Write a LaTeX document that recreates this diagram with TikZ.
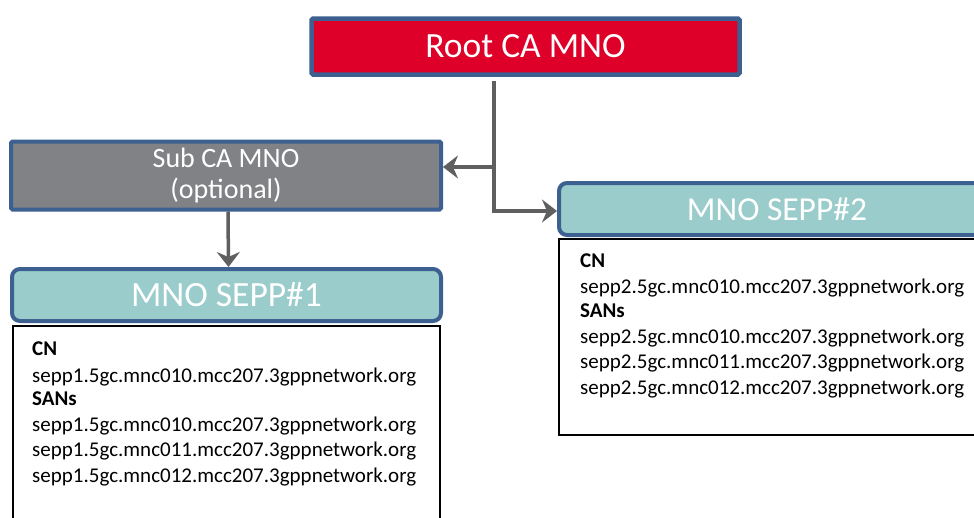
\documentclass[tikz,border=0pt]{standalone}
\usepackage{fontspec}
\setmainfont{Carlito}
\usetikzlibrary{arrows.meta}
\definecolor{rootred}{HTML}{DE0029}
\definecolor{edgeblue}{HTML}{3C6090}
\definecolor{subgray}{HTML}{818286}
\definecolor{septeal}{HTML}{9ACCCB}
\definecolor{conngray}{HTML}{5F5F5F}
\begin{document}
\begin{tikzpicture}[x=1pt,y=-1pt,
  cabox/.style={draw=edgeblue, line width=4.5pt, text=white, inner sep=0pt, rounded corners=1.5pt},
  headbox/.style={draw=edgeblue, line width=4pt, fill=septeal, text=white, inner sep=0pt, rounded corners=8pt},
  bodybox/.style={draw=black, line width=1.6pt, fill=white, inner sep=0pt},
  bodytxt/.style={anchor=base west, inner sep=0pt, font=\fontsize{21pt}{24pt}\selectfont},
  bodyhd/.style={bodytxt, font=\fontsize{21pt}{24pt}\selectfont\bfseries},
  conn/.style={draw=conngray, line width=3.5pt, -{Stealth[length=15pt, width=23pt, inset=5pt]}}
]
\useasboundingbox (0,0) rectangle (974,517);

% boxes
\node[cabox, fill=rootred, minimum width=428pt, minimum height=56pt,
      font=\fontsize{35.5pt}{40pt}\selectfont] (root) at (525.5,46.5) {Root CA MNO};
\node[cabox, line width=4pt, fill=subgray, minimum width=430pt, minimum height=68pt, align=center,
      font=\fontsize{28pt}{31pt}\selectfont] (sub) at (226,175.5) {Sub CA MNO\\(optional)};

\node[bodybox, minimum width=427pt, minimum height=214pt] (body1) at (226.5,433) {};
\node[headbox, minimum width=429pt, minimum height=52pt,
      font=\fontsize{35.5pt}{40pt}\selectfont] (sepp1) at (226.5,295) {MNO SEPP\#1};

\node[bodybox, minimum width=437pt, minimum height=196pt] (body2) at (777.5,337) {};
\node[headbox, minimum width=436pt, minimum height=52pt,
      font=\fontsize{33.5pt}{38pt}\selectfont] (sepp2) at (777,209) {MNO SEPP\#2};

% SEPP#1 certificate text
\node[bodyhd]  (cn1)  at (32,355) {CN};
\node[bodytxt] (cnv1) at (32,382) {sepp1.5gc.mnc010.mcc207.3gppnetwork.org};
\node[bodyhd]  (sa1)  at (32,405) {SANs};
\node[bodytxt] (s1a)  at (32,431) {sepp1.5gc.mnc010.mcc207.3gppnetwork.org};
\node[bodytxt] (s1b)  at (32,456) {sepp1.5gc.mnc011.mcc207.3gppnetwork.org};
\node[bodytxt] (s1c)  at (32,482) {sepp1.5gc.mnc012.mcc207.3gppnetwork.org};

% SEPP#2 certificate text
\node[bodyhd]  (cn2)  at (580,267) {CN};
\node[bodytxt] (cnv2) at (580,293) {sepp2.5gc.mnc010.mcc207.3gppnetwork.org};
\node[bodyhd]  (sa2)  at (580,317) {SANs};
\node[bodytxt] (s2a)  at (580,343) {sepp2.5gc.mnc010.mcc207.3gppnetwork.org};
\node[bodytxt] (s2b)  at (580,368) {sepp2.5gc.mnc011.mcc207.3gppnetwork.org};
\node[bodytxt] (s2c)  at (580,394) {sepp2.5gc.mnc012.mcc207.3gppnetwork.org};

% connectors
\coordinate (j1) at (494,167);
\coordinate (j2) at (494,211);
\draw[conngray, line width=3.5pt, shorten <=4pt] (root.south -| j1) -- (j1);
\draw[conn] (j1) -- (j2) -- (j2 -| sepp2.west);
\draw[conn] (j1) -- (j1 -| sub.east);
\draw[conn] ([xshift=2pt]sub.south) -- ([xshift=2pt]sepp1.north);
\end{tikzpicture}
\end{document}
